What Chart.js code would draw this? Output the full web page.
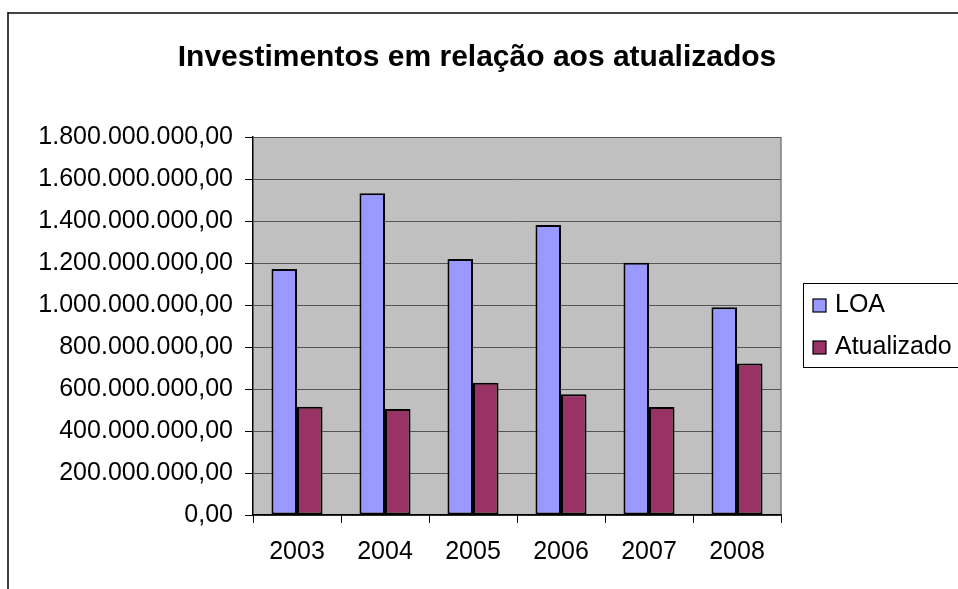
<!DOCTYPE html>
<html>
<head>
<meta charset="utf-8">
<script src="https://cdn.jsdelivr.net/npm/chart.js@4.4.0/dist/chart.umd.min.js"></script>
<style>
  html, body { margin: 0; padding: 0; background: #fff; }
  #wrap { width: 958px; height: 589px; }
</style>
</head>
<body>
<div id="wrap"><canvas id="chart" width="958" height="589"></canvas></div>
<script>
// dados
const anos = ['2003', '2004', '2005', '2006', '2007', '2008'];
const loa = [1171000000, 1532000000, 1219000000, 1381000000, 1201000000, 989000000];
const atualizado = [516000000, 505000000, 630000000, 575000000, 514000000, 722000000];
const yMax = 1800000000;
const yStep = 200000000;
const titulo = 'Investimentos em relação aos atualizados';

const fonte = "'Liberation Sans', Arial, sans-serif";

// formato 1.800.000.000,00
function formatBR(v) {
    const s = Math.round(v).toString().replace(/\B(?=(\d{3})+(?!\d))/g, '.');
    return s + ',00';
}

// fundo, moldura externa, título e área cinza do gráfico
const fundoPlugin = {
    id: 'fundo',
    beforeDraw(chart) {
        const ctx = chart.ctx;
        const a = chart.chartArea;
        ctx.save();
        ctx.fillStyle = '#fff';
        ctx.fillRect(0, 0, chart.width, chart.height);
        // moldura
        ctx.strokeStyle = '#444';
        ctx.lineWidth = 2;
        ctx.beginPath();
        ctx.moveTo(8, 13);
        ctx.lineTo(chart.width, 13);
        ctx.stroke();
        ctx.strokeStyle = '#000';
        ctx.lineWidth = 1.5;
        ctx.beginPath();
        ctx.moveTo(8, 12);
        ctx.lineTo(8, chart.height);
        ctx.stroke();
        // título (centrado na moldura, não na área do gráfico)
        ctx.fillStyle = '#000';
        ctx.font = 'bold 30px ' + fonte;
        ctx.textAlign = 'center';
        ctx.textBaseline = 'middle';
        ctx.fillText(titulo, 477, 58);
        // área de plotagem
        ctx.fillStyle = '#c0c0c0';
        ctx.fillRect(a.left, a.top, a.right - a.left, a.bottom - a.top);
        ctx.strokeStyle = '#808080';
        ctx.lineWidth = 1.5;
        ctx.beginPath();
        ctx.moveTo(a.right, a.top);
        ctx.lineTo(a.right, a.bottom);
        ctx.stroke();
        ctx.restore();
    }
};

// legenda desenhada à mão (posição igual ao Excel)
const legendaPlugin = {
    id: 'legenda',
    afterDraw(chart) {
        const ctx = chart.ctx;
        ctx.save();
        ctx.strokeStyle = '#000';
        ctx.lineWidth = 1;
        ctx.strokeRect(803.5, 283.5, 170, 84);
        ctx.font = '25px ' + fonte;
        ctx.textBaseline = 'middle';
        chart.data.datasets.forEach((ds, i) => {
            const y = 305 + i * 42;
            ctx.fillStyle = ds.backgroundColor;
            ctx.fillRect(813, y - 6, 13, 13);
            ctx.strokeStyle = '#000';
            ctx.lineWidth = 1.2;
            ctx.strokeRect(813, y - 6, 13, 13);
            ctx.fillStyle = '#000';
            ctx.fillText(ds.label, 835, y);
        });
        ctx.restore();
    }
};

new Chart(document.getElementById('chart'), {
    type: 'bar',
    data: {
        labels: anos,
        datasets: [
            {
                label: 'LOA',
                data: loa,
                backgroundColor: '#9999ff',
                borderColor: '#000',
                borderWidth: 2,
                borderSkipped: false,
                categoryPercentage: 0.58,
                barPercentage: 1
            },
            {
                label: 'Atualizado',
                data: atualizado,
                backgroundColor: '#993366',
                borderColor: '#000',
                borderWidth: 2,
                borderSkipped: false,
                categoryPercentage: 0.58,
                barPercentage: 1
            }
        ]
    },
    options: {
        responsive: false,
        animation: false,
        layout: { padding: { top: 137, left: 0, right: 177, bottom: 0 } },
        plugins: {
            legend: { display: false },
            tooltip: { enabled: false },
            title: { display: false }
        },
        scales: {
            x: {
                grid: {
                    offset: true,
                    drawOnChartArea: false,
                    drawTicks: true,
                    tickLength: 8,
                    color: '#000'
                },
                border: { color: '#000', width: 1.5 },
                ticks: {
                    color: '#000',
                    font: { family: fonte, size: 25 },
                    padding: 14,
                    maxRotation: 0
                },
                afterFit(scale) { scale.height = 74; }
            },
            y: {
                min: 0,
                max: yMax,
                grid: {
                    color: '#555',
                    lineWidth: 1,
                    tickColor: '#000',
                    tickLength: 8
                },
                border: { color: '#000', width: 1.5 },
                ticks: {
                    stepSize: yStep,
                    color: '#000',
                    font: { family: fonte, size: 25 },
                    padding: 12,
                    callback: (v) => formatBR(v)
                },
                afterFit(scale) { scale.width = 253; }
            }
        }
    },
    plugins: [fundoPlugin, legendaPlugin]
});
</script>
</body>
</html>
